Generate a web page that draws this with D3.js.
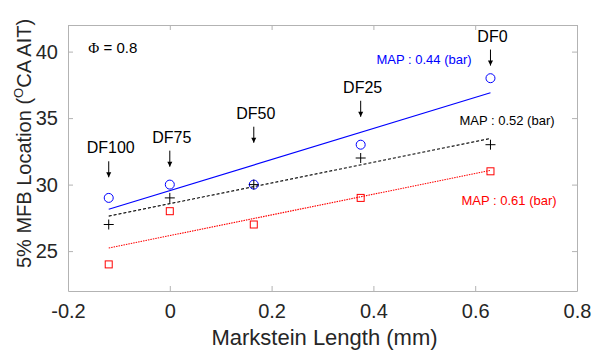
<!DOCTYPE html>
<html>
<head>
<meta charset="utf-8">
<script src="https://cdn.jsdelivr.net/npm/d3@7"></script>
<style>
  body { margin: 0; background: #fff; }
  text { font-family: "Liberation Sans", Arial, sans-serif; }
</style>
</head>
<body>
<svg id="chart" width="592" height="352"></svg>
<script>
// Markstein length (mm) for each dilution case
const marksteinLength = [-0.12, 0, 0.165, 0.375, 0.63];
const dfLabels = ["DF100", "DF75", "DF50", "DF25", "DF0"];
// 5% MFB location (CA AIT) per intake pressure
const map044 = [29, 30, 30, 33, 38];
const map052 = [27, 29, 30, 32, 33];
const map061 = [24, 28, 27, 29, 31];
// linear fit end values (at first and last Markstein length)
const fit044 = [28.15, 36.9];
const fit052 = [27.63, 33.47];
const fit061 = [25.23, 31.07];
// where each DF arrow points (y, CA AIT)
const dfArrowTip = [30.55, 31.35, 33.15, 35.1, 38.95];
const xTicks = [-0.2, 0, 0.2, 0.4, 0.6, 0.8];
const yTicks = [25, 30, 35, 40];

const width = 592;
const height = 352;
const margin = { top: 25, right: 15, bottom: 61, left: 68 };
const innerWidth = width - margin.left - margin.right;
const innerHeight = height - margin.top - margin.bottom;

const svg = d3.select("#chart");
const root = svg.append("g").attr("transform", `translate(${margin.left},${margin.top})`);

const x = d3.scaleLinear().domain([-0.2, 0.8]).range([0, innerWidth]);
const y = d3.scaleLinear().domain([22, 42]).range([innerHeight, 0]);

const axisColor = "#b3b3b3";
const labelColor = "#262626";

// box with mirrored inward ticks
const styleAxis = (g) => {
  g.select(".domain").attr("stroke", axisColor);
  g.selectAll(".tick line").attr("stroke", axisColor);
  g.selectAll(".tick text")
    .attr("fill", labelColor)
    .attr("font-size", "20px")
    .attr("font-family", "'Liberation Sans', Arial, sans-serif");
};

root.append("g")
  .attr("transform", `translate(0,${innerHeight})`)
  .call(d3.axisBottom(x).tickValues(xTicks).tickFormat((d) => String(d)).tickSizeInner(-5).tickSizeOuter(0).tickPadding(13))
  .call(styleAxis);
root.append("g")
  .call(d3.axisTop(x).tickValues(xTicks).tickFormat("").tickSizeInner(-5).tickSizeOuter(0))
  .call(styleAxis);
root.append("g")
  .call(d3.axisLeft(y).tickValues(yTicks).tickSizeInner(-5).tickSizeOuter(0).tickPadding(10))
  .call(styleAxis);
root.append("g")
  .attr("transform", `translate(${innerWidth},0)`)
  .call(d3.axisRight(y).tickValues(yTicks).tickFormat("").tickSizeInner(-5).tickSizeOuter(0))
  .call(styleAxis);

// axis titles
svg.append("text")
  .attr("x", margin.left + innerWidth / 2 + 2)
  .attr("y", 345)
  .attr("text-anchor", "middle")
  .attr("fill", labelColor)
  .attr("font-size", "22px")
  .text("Markstein Length (mm)");

const yTitle = svg.append("text")
  .attr("transform", `translate(31,268) rotate(-90)`)
  .attr("text-anchor", "start")
  .attr("fill", labelColor)
  .attr("font-size", "20px");
yTitle.append("tspan").text("5% MFB Location (");
yTitle.append("tspan").attr("font-size", "13px").attr("dy", -8).text("O");
yTitle.append("tspan").attr("dy", 8).text("CA AIT)");

// fitted lines
const fits = [
  { vals: fit044, color: "#0000ff", dash: null },
  { vals: fit052, color: "#000000", dash: "3,2" },
  { vals: fit061, color: "#ff0000", dash: "1.5,1" },
];
const xFirst = marksteinLength[0];
const xLast = marksteinLength[marksteinLength.length - 1];
root.append("g")
  .selectAll("line")
  .data(fits)
  .join("line")
  .attr("x1", x(xFirst))
  .attr("x2", x(xLast))
  .attr("y1", (d) => y(d.vals[0]))
  .attr("y2", (d) => y(d.vals[1]))
  .attr("stroke", (d) => d.color)
  .attr("stroke-width", 1.1)
  .attr("stroke-dasharray", (d) => d.dash);

// markers
const pts = (vals) => marksteinLength.map((m, i) => ({ m, v: vals[i] }));

root.append("g")
  .selectAll("circle")
  .data(pts(map044))
  .join("circle")
  .attr("cx", (d) => x(d.m))
  .attr("cy", (d) => y(d.v))
  .attr("r", 4.5)
  .attr("fill", "none")
  .attr("stroke", "#0000ff")
  .attr("stroke-width", 1);

root.append("g")
  .selectAll("path")
  .data(pts(map052))
  .join("path")
  .attr("d", (d) => {
    const cx = x(d.m), cy = y(d.v), s = 5;
    return `M${cx - s},${cy}H${cx + s}M${cx},${cy - s}V${cy + s}`;
  })
  .attr("stroke", "#000")
  .attr("stroke-width", 1);

root.append("g")
  .selectAll("rect")
  .data(pts(map061))
  .join("rect")
  .attr("x", (d) => x(d.m) - 3.5)
  .attr("y", (d) => y(d.v) - 3.5)
  .attr("width", 7)
  .attr("height", 7)
  .attr("fill", "none")
  .attr("stroke", "#ff0000")
  .attr("stroke-width", 1);

// DF annotations with arrows
const ann = root.append("g");
const arrowLen = 16;
dfLabels.forEach((lab, i) => {
  const ax = x(marksteinLength[i]);
  const tip = y(dfArrowTip[i]);
  ann.append("line")
    .attr("x1", ax).attr("x2", ax)
    .attr("y1", tip - arrowLen).attr("y2", tip)
    .attr("stroke", "#000").attr("stroke-width", 1);
  ann.append("path")
    .attr("d", `M${ax - 2.5},${tip - 5}L${ax},${tip}L${ax + 2.5},${tip - 5}Z`)
    .attr("fill", "#000");
  ann.append("text")
    .attr("x", ax + 2)
    .attr("y", tip - arrowLen - 8)
    .attr("text-anchor", "middle")
    .attr("fill", "#000")
    .attr("font-size", "16px")
    .text(lab);
});

// MAP labels
const mapLabels = [
  { text: "MAP : 0.44 (bar)", color: "#0000ff", mx: 0.406, my: 39.1 },
  { text: "MAP : 0.52 (bar)", color: "#000000", mx: 0.569, my: 34.45 },
  { text: "MAP : 0.61 (bar)", color: "#ff0000", mx: 0.573, my: 28.5 },
];
root.append("g")
  .selectAll("text")
  .data(mapLabels)
  .join("text")
  .attr("x", (d) => x(d.mx))
  .attr("y", (d) => y(d.my))
  .attr("fill", (d) => d.color)
  .attr("font-size", "13px")
  .text((d) => d.text);

// equivalence ratio note
const phi = root.append("text")
  .attr("x", x(-0.16))
  .attr("y", y(39.9))
  .attr("fill", "#000")
  .attr("font-size", "15px");
phi.append("tspan").attr("font-family", "'Liberation Serif', 'Times New Roman', serif").text("\u03A6");
phi.append("tspan").text(" = 0.8");
</script>
</body>
</html>
